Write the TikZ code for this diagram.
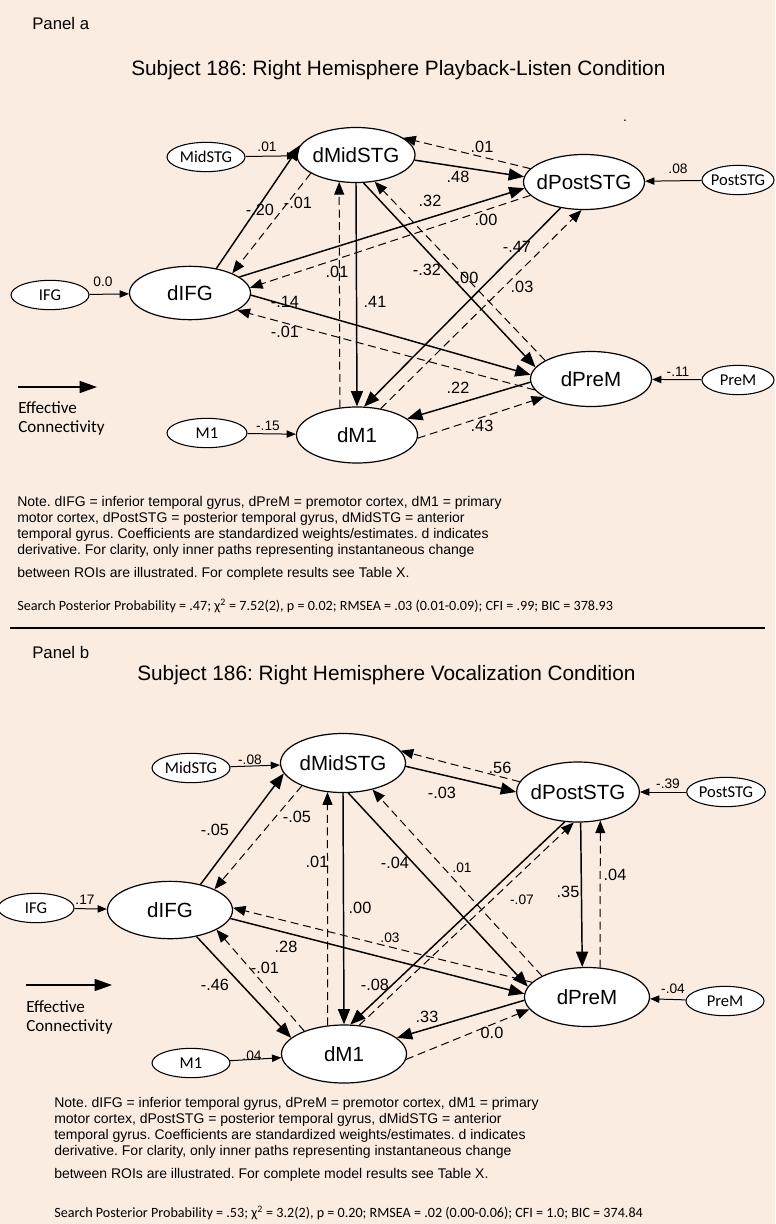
\documentclass[tikz,border=0pt]{standalone}
\usepackage{fontspec}
\setmainfont{Liberation Sans}
\newfontfamily\calibri{Carlito}
\usetikzlibrary{shapes.geometric,arrows.meta}
\frenchspacing

\definecolor{peach}{RGB}{251,236,226}

\newcommand\ttlfnt{\fontsize{15.6}{18}\selectfont}
\newcommand\panfnt{\fontsize{12.6}{15}\selectfont}
\newcommand\dfnt{\fontsize{15.4}{18}\selectfont}
\newcommand\rfnt{\calibri\fontsize{12.4}{14}\selectfont}
\newcommand\lfnt{\fontsize{12.2}{14}\selectfont}
\newcommand\slfnt{\fontsize{10.3}{12}\selectfont}
\newcommand\legfnt{\calibri\fontsize{12.8}{15}\selectfont}
\newcommand\notefnt{\fontsize{10.5}{12}\selectfont}
\newcommand\statfnt{\calibri\fontsize{10.6}{12}\selectfont}

\tikzset{
  dnode/.style={ellipse, draw, fill=white, line width=0.9pt, inner xsep=-8pt, inner ysep=0pt, font=\dfnt},
  da/.style={dnode, minimum width=90.75pt, minimum height=41.25pt},
  db/.style={dnode, minimum width=93.75pt, minimum height=44.25pt},
  rnode/.style={ellipse, draw, fill=white, line width=0.8pt, inner xsep=-6pt, inner ysep=0pt, minimum width=58.5pt, minimum height=22pt, font=\rfnt},
  sol/.style={line width=1.1pt, -{Triangle[length=11.5pt,width=9pt]}},
  dsh/.style={line width=0.75pt, dash pattern=on 6pt off 3.5pt, -{Triangle[length=9.5pt,width=7.5pt]}},
  inp/.style={line width=0.75pt, -{Triangle[length=7pt,width=5.5pt]}},
  lgd/.style={line width=1.1pt, -{Triangle[length=13pt,width=9pt]}},
  lbl/.style={font=\lfnt, inner sep=0pt},
  slbl/.style={font=\slfnt, inner sep=0pt},
  txt/.style={anchor=west, inner sep=0pt},
}

\begin{document}
\begin{tikzpicture}[x=0.75pt, y=-0.75pt]
\fill[peach] (0,0) rectangle (775,1224);
\useasboundingbox (0,0) rectangle (775,1224);

%%%%% Panel a
\node[txt, font=\panfnt] (pa) at (32,23) {Panel a};
\node[txt, font=\ttlfnt] (ta) at (131,70) {Subject 186: Right Hemisphere Playback-Listen Condition};
\node[slbl] (dot) at (625,121) {.};

% Knoten
\node[rnode] (MidSTGa) at (206,157) {MidSTG};
\node[da, minimum width=88.5pt] (dMidSTGa) at (356,155) {dMidSTG};
\node[da] (dPostSTGa) at (584,182) {dPostSTG};
\node[rnode, minimum width=54pt] (PostSTGa) at (738,180) {PostSTG};
\node[rnode] (IFGa) at (50,295) {IFG};
\node[da, minimum height=40pt] (dIFGa) at (190,293) {dIFG};
\node[da] (dPreMa) at (591,379) {dPreM};
\node[rnode, minimum width=54pt] (PreMa) at (738,380) {PreM};
\node[rnode, minimum width=60pt] (M1a) at (207,433) {M1};
\node[da, minimum height=42pt] (dM1a) at (357,435) {dM1};

% Eingaenge
\draw[inp] (MidSTGa) -- (dMidSTGa);
\draw[inp] (IFGa) -- (dIFGa);
\draw[inp] (PostSTGa) -- (dPostSTGa);
\draw[inp] (PreMa) -- (dPreMa);
\draw[inp] (M1a) -- (dM1a);

% Pfade
\draw[sol] (dIFGa.43) -- (dMidSTGa.170); % -.20
\draw[dsh] (dMidSTGa.202) -- (dIFGa.25); % -.01
\draw[sol] (dMidSTGa.355) -- (dPostSTGa.175); % .48
\draw[dsh] (dPostSTGa.166) -- (dMidSTGa.20); % .01
\draw[sol] (dIFGa.18) -- (dPostSTGa.186); % .32
\draw[dsh] (dPostSTGa.194) -- (dIFGa.5); % .00
\draw[sol] (dMidSTGa.south) -- (dM1a.north); % .41
\draw[dsh] (dM1a.122) -- (dMidSTGa.238); % .01
\draw[sol] (dMidSTGa.285) -- (dPreMa.168); % -.32
\draw[dsh] (dPreMa.158) -- (dMidSTGa.305); % .00
\draw[sol] (dPostSTGa.228) -- (dM1a.76); % -.47
\draw[dsh] (dM1a.48) -- (dPostSTGa.265); % .03
\draw[sol] (dIFGa.358) -- (dPreMa.176); % -.14
\draw[dsh] (dPreMa.191) -- (dIFGa.340); % -.01
\draw[sol] (dPreMa.183) -- (dM1a.18); % .22
\draw[dsh] (dM1a.357) -- (dPreMa.201); % .43

% Gewichte
\node[slbl] (a1) at (267,147) {.01};
\node[slbl] (a2) at (103,282) {0.0};
\node[slbl] (a3) at (678,169) {.08};
\node[slbl] (a4) at (678,372) {-.11};
\node[slbl] (a5) at (268,426) {-.15};
\node[lbl] (a6) at (260,210) {-.20};
\node[lbl] (a7) at (298,203) {-.01};
\node[lbl] (a8) at (458,177) {.48};
\node[lbl] (a9) at (482,147) {.01};
\node[lbl] (a10) at (430,201) {.32};
\node[lbl] (a11) at (486,220) {.00};
\node[lbl] (a12) at (337,272) {.01};
\node[lbl] (a13) at (375,302) {.41};
\node[lbl] (a14) at (427,270) {-.32};
\node[lbl] (a15) at (467,278) {.00};
\node[lbl] (a16) at (517,247) {-.47};
\node[lbl] (a17) at (522,287) {.03};
\node[lbl] (a18) at (285,302) {-.14};
\node[lbl] (a19) at (285,332) {-.01};
\node[lbl] (a20) at (458,388) {.22};
\node[lbl] (a21) at (482,426) {.43};

% Legende
\coordinate (la1) at (18,387);
\coordinate (la2) at (97,387);
\draw[lgd] (la1) -- (la2);
\node[txt, font=\legfnt] (efa) at (18,408) {Effective};
\node[txt, font=\legfnt] (cna) at (18,428) {Connectivity};

% Text
\node[anchor=north west, inner sep=0pt, font=\notefnt, align=left] (notea) at (17,496)
  {Note. dIFG = inferior temporal gyrus, dPreM = premotor cortex, dM1 = primary\\
   motor cortex, dPostSTG = posterior temporal gyrus, dMidSTG = anterior\\
   temporal gyrus. Coefficients are standardized weights/estimates. d indicates\\
   derivative. For clarity, only inner paths representing instantaneous change\\[5pt]
   between ROIs are illustrated. For complete results see Table X.};
\node[txt, font=\statfnt] (sta) at (17,606) {Search Posterior Probability = .47; χ\textsuperscript{2} = 7.52(2), p = 0.02; RMSEA = .03 (0.01-0.09); CFI = .99; BIC = 378.93};

% Trennlinie
\coordinate (ra) at (10,628);
\coordinate (rb) at (765,628);
\draw[line width=2.2pt] (ra) -- (rb);

%%%%% Panel b
\node[txt, font=\panfnt] (pb) at (32,652) {Panel b};
\node[txt, font=\ttlfnt] (tb) at (137,675) {Subject 186: Right Hemisphere Vocalization Condition};

% Knoten
\node[rnode] (MidSTGb) at (191,768) {MidSTG};
\node[db] (dMidSTGb) at (343,763) {dMidSTG};
\node[db, minimum width=92pt, minimum height=45pt] (dPostSTGb) at (578,792) {dPostSTG};
\node[rnode, minimum width=59pt] (PostSTGb) at (726,792) {PostSTG};
\node[rnode, minimum width=57pt] (IFGb) at (36,908) {IFG};
\node[db, minimum height=43pt] (dIFGb) at (170,910) {dIFG};
\node[db] (dPreMb) at (587,997) {dPreM};
\node[rnode] (PreMb) at (725,1001) {PreM};
\node[rnode] (M1b) at (191,1063) {M1};
\node[db, minimum height=43.5pt] (dM1b) at (344,1054) {dM1};

% Eingaenge
\draw[inp] (MidSTGb) -- (dMidSTGb);
\draw[inp] (IFGb) -- (dIFGb);
\draw[inp] (PostSTGb) -- (dPostSTGb);
\draw[inp] (PreMb) -- (dPreMb);
\draw[inp] (M1b) -- (dM1b);

% Pfade
\draw[sol] (dIFGb.40) -- (dMidSTGb.190); % -.05
\draw[dsh] (dMidSTGb.209) -- (dIFGb.25); % -.05
\draw[sol] (dMidSTGb.357) -- (dPostSTGb.180); % -.03
\draw[dsh] (dPostSTGb.170) -- (dMidSTGb.12); % .56
\draw[dsh] (dM1b.120) -- (dMidSTGb.242); % .01
\draw[sol] (dMidSTGb.south) -- (dM1b.north); % .00
\draw[sol] (dMidSTGb.280) -- (dPreMb.170); % -.04
\draw[dsh] (dPreMb.155) -- (dMidSTGb.318); % .01
\draw[sol] (dIFGb.352) -- (dPreMb.177); % .28
\draw[dsh] (dPreMb.165) -- (dIFGb.2); % .03
\draw[sol] (dIFGb.315) -- (dM1b.163); % -.46
\draw[dsh] (dM1b.150) -- (dIFGb.337); % -.01
\draw[sol] (dPostSTGb.246) -- (dM1b.78); % -.08
\draw[dsh] (dM1b.62) -- (dPostSTGb.262); % -.07
\draw[sol] (dPostSTGb.275) -- (dPreMb.99); % .35
\draw[dsh] (dPreMb.66) -- (dPostSTGb.308); % .04
\draw[sol] (dPreMb.183) -- (dM1b.17); % .33
\draw[dsh] (dM1b.355) -- (dPreMb.192); % 0.0

% Gewichte
\node[slbl] (b1) at (250,760) {-.08};
\node[slbl] (b2) at (668,784) {-.39};
\node[slbl] (b3) at (673,989) {-.04};
\node[slbl] (b4) at (85,900) {.17};
\node[slbl] (b5) at (252,1056) {.04};
\node[lbl] (b6) at (215,830) {-.05};
\node[lbl] (b7) at (297,817) {-.05};
\node[lbl] (b8) at (317,862) {.01};
\node[lbl] (b9) at (360,908) {.00};
\node[lbl] (b10) at (395,863) {-.04};
\node[slbl] (b11) at (462,868) {.01};
\node[lbl] (b12) at (442,793) {-.03};
\node[lbl] (b13) at (500,768) {.56};
\node[slbl] (b14) at (522,900) {-.07};
\node[lbl] (b15) at (568,892) {.35};
\node[lbl] (b16) at (615,875) {.04};
\node[lbl] (b17) at (286,947) {.28};
\node[slbl] (b18) at (390,938) {.03};
\node[lbl] (b19) at (215,985) {-.46};
\node[lbl] (b20) at (265,968) {-.01};
\node[lbl] (b21) at (375,985) {-.08};
\node[lbl] (b22) at (427,1017) {.33};
\node[lbl] (b23) at (492,1033) {0.0};

% Legende
\coordinate (lb1) at (26,985);
\coordinate (lb2) at (112,985);
\draw[lgd] (lb1) -- (lb2);
\node[txt, font=\legfnt] (efb) at (26,1007) {Effective};
\node[txt, font=\legfnt] (cnb) at (26,1027) {Connectivity};

% Text
\node[anchor=north west, inner sep=0pt, font=\notefnt, align=left] (noteb) at (54,1097)
  {Note. dIFG = inferior temporal gyrus, dPreM = premotor cortex, dM1 = primary\\
   motor cortex, dPostSTG = posterior temporal gyrus, dMidSTG = anterior\\
   temporal gyrus. Coefficients are standardized weights/estimates. d indicates\\
   derivative. For clarity, only inner paths representing instantaneous change\\[5pt]
   between ROIs are illustrated. For complete model results see Table X.};
\node[txt, font=\statfnt] (stb) at (54,1213) {Search Posterior Probability = .53; χ\textsuperscript{2} = 3.2(2), p = 0.20; RMSEA = .02 (0.00-0.06); CFI = 1.0; BIC = 374.84};
\end{tikzpicture}
\end{document}
